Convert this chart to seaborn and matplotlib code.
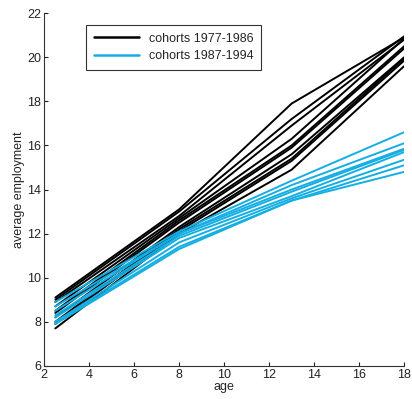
import pandas as pd
import seaborn as sns
import matplotlib.pyplot as plt

ages = [2.5, 8, 13, 18]

# cohorts 1977-1986 (one row per cohort, values at each age)
old_cohorts = [
    [9.1, 13.1, 17.9, 20.9],
    [9.0, 13.0, 17.2, 20.95],
    [8.9, 12.8, 16.9, 20.8],
    [8.7, 12.7, 16.3, 20.85],
    [8.5, 12.6, 16.0, 20.5],
    [8.4, 12.5, 15.9, 20.4],
    [8.2, 12.3, 15.6, 20.0],
    [8.0, 12.2, 15.4, 19.95],
    [7.9, 12.1, 15.3, 19.85],
    [7.7, 12.0, 14.9, 19.6],
]

# cohorts 1987-1994
new_cohorts = [
    [8.9, 12.1, 14.4, 16.6],
    [8.7, 12.0, 14.2, 16.1],
    [8.5, 12.0, 14.0, 15.85],
    [8.3, 11.9, 13.9, 15.8],
    [8.2, 11.8, 13.7, 15.7],
    [8.0, 11.6, 13.6, 15.35],
    [7.95, 11.4, 13.5, 15.1],
    [7.9, 11.3, 13.5, 14.8],
]

groups = ['cohorts 1977-1986', 'cohorts 1987-1994']

rows = []
for i, vals in enumerate(old_cohorts):
    for a, v in zip(ages, vals):
        rows.append({'age': a, 'employment': v, 'cohort': f'old{i}', 'group': groups[0]})
for i, vals in enumerate(new_cohorts):
    for a, v in zip(ages, vals):
        rows.append({'age': a, 'employment': v, 'cohort': f'new{i}', 'group': groups[1]})
df = pd.DataFrame(rows)

sns.set_style('ticks')
plt.rcParams['font.family'] = ['Liberation Sans', 'DejaVu Sans']

fig = plt.figure(figsize=(4.12, 3.99), dpi=100)
ax = fig.add_axes([0.107, 0.083, 0.874, 0.884])

sns.lineplot(data=df, x='age', y='employment', hue='group', units='cohort',
             estimator=None, palette={groups[0]: 'black', groups[1]: '#14AEE3'},
             linewidth=1.4, ax=ax)

ax.set_xlim(2, 18)
ax.set_ylim(6, 22)
ax.set_xticks(range(2, 19, 2))
ax.set_yticks(range(6, 23, 2))
ax.tick_params(direction='in', length=3, width=0.8, labelsize=9, colors='#222222', pad=2)
for s in ['top', 'right']:
    ax.spines[s].set_visible(False)
for s in ['left', 'bottom']:
    ax.spines[s].set_color('#333333')
    ax.spines[s].set_linewidth(0.8)

ax.set_xlabel('age', fontsize=9, labelpad=0)
ax.set_ylabel('average employment', fontsize=9, labelpad=2)

leg = ax.legend(loc='upper left', bbox_to_anchor=(0.117, 0.966), fontsize=9,
                frameon=True, fancybox=False, edgecolor='black', handlelength=3.6,
                borderpad=0.6, labelspacing=0.45, borderaxespad=0)
leg.get_frame().set_linewidth(0.8)
for line in leg.get_lines():
    line.set_linewidth(1.8)

plt.savefig('out.png', dpi=100)
plt.close()
